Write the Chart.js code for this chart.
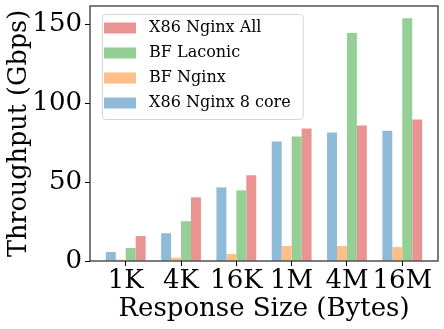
<!DOCTYPE html>
<html>
<head>
<meta charset="utf-8">
<script src="https://cdn.jsdelivr.net/npm/chart.js@4/dist/chart.umd.min.js"></script>
<style>
  html, body { margin: 0; padding: 0; background: #fff; }
  #wrap { width: 444px; height: 329px; }
</style>
</head>
<body>
<div id="wrap"><canvas id="chart" width="444" height="329"></canvas></div>
<script>
// response sizes and throughput (Gbps)
const sizes = ['1K', '4K', '16K', '1M', '4M', '16M'];
const x86Nginx8 = [5.7, 17.6, 46.6, 75.6, 81.3, 82.5];
const bfNginx = [0.8, 2.1, 4.4, 9.5, 9.5, 8.8];
const bfLaconic = [8.2, 25.2, 44.7, 78.8, 144.3, 153.7];
const x86NginxAll = [15.8, 40.3, 54.2, 83.8, 85.7, 89.5];
const yTicks = [0, 50, 100, 150];

const FONT = "'DejaVu Serif', serif";

const toPoints = vals => vals.map((v, i) => ({ x: i, y: v }));

// white box with grey frame behind the legend, like matplotlib
const legendFrame = {
  id: 'legendFrame',
  afterLayout(chart) {
    const lg = chart.legend;
    const dx = chart.chartArea.left + 5 - lg.left;
    const dy = chart.chartArea.top + 5 - lg.top;
    lg.left += dx;
    lg.top += dy;
    (lg.legendHitBoxes || []).forEach(b => { b.left += dx; b.top += dy; });
  },
  beforeDraw(chart) {
    const boxes = chart.legend.legendHitBoxes;
    if (!boxes || !boxes.length) return;
    const x0 = Math.min(...boxes.map(b => b.left)) - 7;
    const x1 = Math.max(...boxes.map(b => b.left + b.width)) + 7;
    const y0 = Math.min(...boxes.map(b => b.top)) - 6;
    const y1 = Math.max(...boxes.map(b => b.top + b.height)) + 8;
    const ctx = chart.ctx;
    ctx.save();
    ctx.beginPath();
    ctx.roundRect(x0 + 0.5, y0 + 0.5, x1 - x0, y1 - y0, 3);
    ctx.fillStyle = 'rgba(255,255,255,0.8)';
    ctx.fill();
    ctx.strokeStyle = '#d6d6d6';
    ctx.lineWidth = 1;
    ctx.stroke();
    ctx.restore();
  },
  afterDraw(chart) {
    const a = chart.chartArea;
    const ctx = chart.ctx;
    ctx.save();
    ctx.strokeStyle = '#262626';
    ctx.lineWidth = 1.2;
    ctx.strokeRect(a.left, a.top, a.right - a.left, a.bottom - a.top);
    ctx.restore();
  }
};

new Chart(document.getElementById('chart'), {
  type: 'bar',
  data: {
    datasets: [
      { label: 'X86 Nginx 8 core', data: toPoints(x86Nginx8), backgroundColor: 'rgb(143,187,217)' },
      { label: 'BF Nginx', data: toPoints(bfNginx), backgroundColor: 'rgb(255,191,134)' },
      { label: 'BF Laconic', data: toPoints(bfLaconic), backgroundColor: 'rgb(149,207,149)' },
      { label: 'X86 Nginx All', data: toPoints(x86NginxAll), backgroundColor: 'rgb(234,147,147)' }
    ]
  },
  options: {
    responsive: false,
    animation: false,
    categoryPercentage: 0.72,
    barPercentage: 1.0,
    layout: { padding: { left: 0, right: 6, top: 6, bottom: 0 } },
    plugins: {
      tooltip: { enabled: false },
      legend: {
        position: 'chartArea',
        align: 'start',
        reverse: true,
        labels: {
          boxWidth: 32,
          boxHeight: 11,
          padding: 9,
          color: '#000',
          font: { family: FONT, size: 16 },
          generateLabels(chart) {
            return Chart.defaults.plugins.legend.labels.generateLabels(chart)
              .map(l => ({ ...l, text: ' ' + l.text, lineWidth: 0 }));
          }
        }
      }
    },
    scales: {
      x: {
        type: 'linear',
        offset: false,
        min: -0.646,
        max: 5.646,
        afterBuildTicks: s => { s.ticks = sizes.map((c, i) => ({ value: i })); },
        afterFit: s => { s.height = 68; s.paddingLeft = 0; s.paddingRight = 0; },
        grid: { offset: false, drawOnChartArea: false, drawTicks: true, tickLength: 5, color: '#000' },
        border: { display: false },
        ticks: {
          color: '#000',
          padding: 0,
          maxRotation: 0,
          autoSkip: false,
          font: { family: FONT, size: 26 },
          callback: v => sizes[v]
        },
        title: {
          display: true,
          text: 'Response Size (Bytes)',
          color: '#000',
          font: { family: FONT, size: 26 },
          padding: { top: 0, bottom: 4 }
        }
      },
      y: {
        min: 0,
        max: 161.4,
        afterBuildTicks: s => { s.ticks = yTicks.map(v => ({ value: v })); },
        afterFit: s => { s.width = 90; s.paddingTop = 0; s.paddingBottom = 0; },
        grid: { drawOnChartArea: false, drawTicks: true, tickLength: 5, color: '#000' },
        border: { display: false },
        ticks: {
          color: '#000',
          padding: 3,
          font: { family: FONT, size: 26 }
        },
        title: {
          display: true,
          text: 'Throughput (Gbps)',
          color: '#000',
          font: { family: FONT, size: 25.5 },
          padding: { top: 4, bottom: 0 }
        }
      }
    }
  },
  plugins: [legendFrame]
});
</script>
</body>
</html>
